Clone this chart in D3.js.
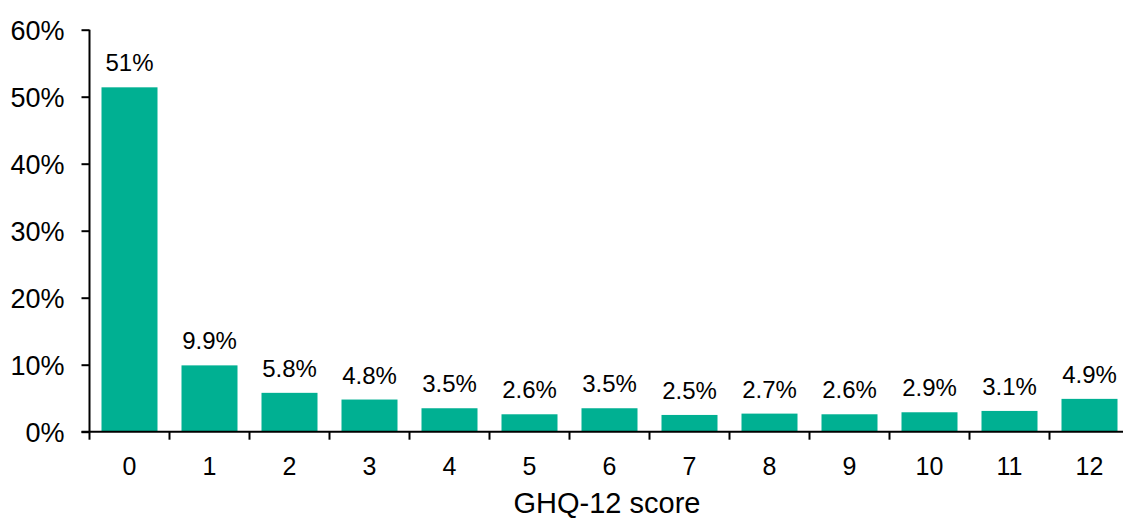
<!DOCTYPE html>
<html>
<head>
<meta charset="utf-8">
<script src="https://cdn.jsdelivr.net/npm/d3@7/dist/d3.min.js"></script>
<style>
  html, body { margin: 0; padding: 0; background: #fff; }
  svg { display: block; font-family: "Liberation Sans", Arial, sans-serif; }
</style>
</head>
<body>
<svg id="chart" width="1123" height="518"></svg>
<script>
// GHQ-12 score distribution (share of respondents, %)
const scores = ["0","1","2","3","4","5","6","7","8","9","10","11","12"];
const shares = [51.4, 9.9, 5.8, 4.8, 3.5, 2.6, 3.5, 2.5, 2.7, 2.6, 2.9, 3.1, 4.9];
const yTicks = [0, 10, 20, 30, 40, 50, 60];
const xTitle = "GHQ-12 score";

(function () {
  const svg = d3.select("#chart");
  const plotLeft = 89.5, plotRight = 1129.5, plotTop = 29.7, plotBottom = 431.7;

  const x = d3.scaleBand().domain(scores).range([plotLeft, plotRight]).paddingInner(0.3).paddingOuter(0.15);
  const y = d3.scaleLinear().domain([0, 60]).range([plotBottom, plotTop]);

  const fmt = v => (v >= 10 ? d3.format(".0f")(v) : d3.format(".1f")(v)) + "%";

  // bars
  svg.append("g").selectAll("rect").data(shares).join("rect")
    .attr("x", (d, i) => x(scores[i]))
    .attr("width", x.bandwidth())
    .attr("y", d => y(d))
    .attr("height", d => y(0) - y(d))
    .attr("fill", "#00B092");

  // value labels
  svg.append("g").selectAll("text").data(shares).join("text")
    .attr("x", (d, i) => x(scores[i]) + x.bandwidth() / 2)
    .attr("y", d => y(d) - 16)
    .attr("text-anchor", "middle")
    .attr("font-size", 24)
    .attr("fill", "#000")
    .text(fmt);

  // y axis
  const yAxis = d3.axisLeft(y).tickValues(yTicks).tickFormat(d => d + "%").tickSize(8).tickPadding(17);
  const gy = svg.append("g").attr("transform", `translate(${plotLeft},0)`).call(yAxis);
  gy.select(".domain").attr("stroke", "#000").attr("stroke-width", 2).attr("d", `M0,${plotTop}V${plotBottom}`);
  gy.selectAll(".tick line").attr("stroke", "#000").attr("stroke-width", 2);
  gy.selectAll(".tick text").attr("font-size", 27).attr("fill", "#000")
    .attr("font-family", "Liberation Sans, Arial, sans-serif").attr("dy", "0.35em");

  // x axis with ticks on band boundaries
  const gx = svg.append("g").attr("transform", `translate(0,${plotBottom})`);
  gx.append("line").attr("x1", plotLeft - 8).attr("x2", plotRight).attr("stroke", "#000").attr("stroke-width", 2);
  const bounds = d3.range(scores.length).map(i => plotLeft + i * x.step());
  gx.selectAll("line.tk").data(bounds).join("line").attr("class", "tk")
    .attr("x1", d => d).attr("x2", d => d).attr("y1", 0).attr("y2", 8)
    .attr("stroke", "#000").attr("stroke-width", 2);
  gx.selectAll("text").data(scores).join("text")
    .attr("x", d => x(d) + x.bandwidth() / 2)
    .attr("y", 43)
    .attr("text-anchor", "middle")
    .attr("font-size", 25)
    .attr("fill", "#000")
    .text(d => d);

  svg.append("text")
    .attr("x", 607).attr("y", 513)
    .attr("text-anchor", "middle")
    .attr("font-size", 29)
    .attr("fill", "#000")
    .text(xTitle);
})();
</script>
</body>
</html>
